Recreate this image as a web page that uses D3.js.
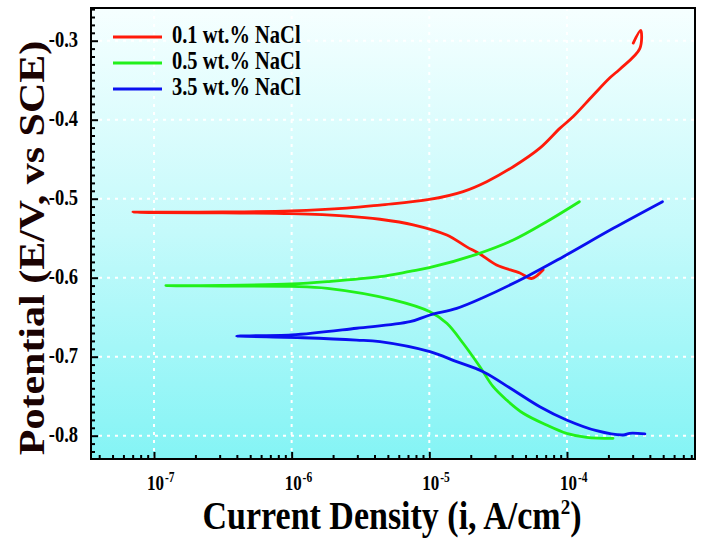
<!DOCTYPE html>
<html><head><meta charset="utf-8">
<script src="https://cdn.jsdelivr.net/npm/d3@7"></script>
<style>html,body{margin:0;padding:0;background:#fff;}svg{display:block;}</style>
</head><body>
<svg id="chart" width="705" height="538"></svg>
<script>
// ---- data ----
const seriesNames = ["0.1 wt.% NaCl", "0.5 wt.% NaCl", "3.5 wt.% NaCl"];
const seriesColors = ["#ff1a0a", "#22f01a", "#0a10f0"];

const redI = [6.71e-5,5.53e-5,4.55e-5,3.08e-5,2.33e-5,1.87e-5,1.34e-5,7.64e-6,4.38e-6,2.51e-6,1.0e-6,3.16e-7,1.0e-7,7.03e-8,
  1.0e-7,3.16e-7,1.0e-6,2.51e-6,4.38e-6,1.0e-5,1.76e-5,2.61e-5,4.07e-5,6.35e-5,8.87e-5,1.11e-4,1.55e-4,2.05e-4,2.42e-4,3.38e-4,3.43e-4,3.03e-4];
const redE = [-0.590,-0.601,-0.594,-0.584,-0.570,-0.561,-0.546,-0.533,-0.526,-0.522,-0.519,-0.518,-0.5175,-0.517,
  -0.517,-0.5168,-0.5155,-0.512,-0.508,-0.501,-0.491,-0.4785,-0.4595,-0.436,-0.411,-0.396,-0.369,-0.347,-0.336,-0.310,-0.287,-0.303];

const greenI = [2.16e-4,1.39e-4,9.93e-5,7.11e-5,4.81e-5,3.64e-5,2.91e-5,2.33e-5,1.76e-5,1.34e-5,1.01e-5,5.47e-6,1.82e-6,1.0e-6,3.16e-7,1.22e-7,
  3.16e-7,1.0e-6,1.82e-6,4.38e-6,7.23e-6,1.0e-5,2.2e-5,4.07e-5,7.11e-5,1.23e-4];
const greenE = [-0.8033,-0.802,-0.797,-0.7865,-0.7716,-0.7548,-0.738,-0.7127,-0.683,-0.6577,-0.643,-0.628,-0.6134,-0.611,-0.6105,-0.6101,
  -0.6098,-0.608,-0.605,-0.5987,-0.592,-0.5873,-0.5704,-0.5523,-0.5291,-0.5038];

const blueI = [3.68e-4,2.86e-4,2.56e-4,1.64e-4,9.93e-5,6.35e-5,4.07e-5,2.46e-5,1.58e-5,1.01e-5,4.38e-6,2.96e-6,1.21e-6,3.99e-7,
  1.0e-6,2.96e-6,7.23e-6,1.01e-5,1.58e-5,2.4e-5,5.08e-5,9.4e-5,2.17e-4,4.94e-4];
const blueE = [-0.7978,-0.797,-0.7991,-0.7937,-0.7801,-0.7633,-0.7422,-0.719,-0.7063,-0.6937,-0.681,-0.6789,-0.676,-0.6738,
  -0.6725,-0.664,-0.6557,-0.6472,-0.6388,-0.626,-0.5987,-0.5734,-0.5375,-0.5038];

const xTicks = [1e-7, 1e-6, 1e-5, 1e-4];
const xTickExps = ["-7", "-6", "-5", "-4"];
const yTicks = [-0.3, -0.4, -0.5, -0.6, -0.7, -0.8];
const yTickLabels = ["-0.3", "-0.4", "-0.5", "-0.6", "-0.7", "-0.8"];
const xTitle = "Current Density (i, A/cm";
const yTitle = "Potential (E/V, vs SCE)";

// ---- layout ----
const L = 91, R = 695, T = 8, B = 459;
const svg = d3.select("#chart");
const x = d3.scaleLog().domain([Math.pow(10, -7.4575), Math.pow(10, -3.07)]).range([L, R]);
const y = d3.scaleLinear().domain([-0.8295, -0.2586]).range([B, T]);
const serif = "'Liberation Serif','Times New Roman',serif";
const SY = 1.2; // vertical stretch of text

const defs = svg.append("defs");
const grad = defs.append("linearGradient").attr("id", "bg").attr("x1", 0).attr("y1", 0).attr("x2", 0).attr("y2", 1);
grad.append("stop").attr("offset", "0%").attr("stop-color", "#f6ffff");
grad.append("stop").attr("offset", "50%").attr("stop-color", "#c4fafb");
grad.append("stop").attr("offset", "100%").attr("stop-color", "#84f4f5");
defs.append("clipPath").attr("id", "clip").append("rect").attr("x", L).attr("y", T).attr("width", R - L).attr("height", B - T);

svg.append("rect").attr("x", L).attr("y", T).attr("width", R - L).attr("height", B - T).attr("fill", "url(#bg)");

// grid
const grid = svg.append("g").attr("stroke", "#ffffff").attr("stroke-width", 2).attr("stroke-dasharray", "3,5");
grid.selectAll(".gx").data(xTicks).join("line").attr("x1", d => x(d)).attr("x2", d => x(d)).attr("y1", T).attr("y2", B);
grid.selectAll(".gy").data(yTicks).join("line").attr("y1", d => y(d)).attr("y2", d => y(d)).attr("x1", L).attr("x2", R);

// axes with inward ticks
const minorX = [];
for (let e = -8; e <= -3; e++) for (let m = 1; m <= 9; m++) { const v = m * Math.pow(10, e); if (v >= x.domain()[0] && v <= x.domain()[1]) minorX.push(v); }
const xAxisMinor = d3.axisTop(x).tickValues(minorX.filter(v => !xTicks.some(t => Math.abs(t - v) / t < 1e-6))).tickSize(4).tickFormat("");
const xAxisMajor = d3.axisTop(x).tickValues(xTicks).tickSize(7).tickFormat("");
[xAxisMinor, xAxisMajor].forEach(ax => {
  const g = svg.append("g").attr("transform", `translate(0,${B})`).call(ax);
  g.select(".domain").remove();
  g.selectAll("line").attr("stroke", "#000").attr("stroke-width", 2);
});
const minorY = d3.range(-83, -25).map(v => v / 100).filter(v => v >= y.domain()[0] && v <= y.domain()[1] && !yTicks.some(t => Math.abs(t - v) < 1e-6));
const yAxisMinor = d3.axisRight(y).tickValues(minorY).tickSize(4).tickFormat("");
const yAxisMajor = d3.axisRight(y).tickValues(yTicks).tickSize(7).tickFormat("");
[yAxisMinor, yAxisMajor].forEach(ax => {
  const g = svg.append("g").attr("transform", `translate(${L},0)`).call(ax);
  g.select(".domain").remove();
  g.selectAll("line").attr("stroke", "#000").attr("stroke-width", 2);
});

// frame
svg.append("rect").attr("x", L).attr("y", T).attr("width", R - L).attr("height", B - T)
  .attr("fill", "none").attr("stroke", "#000").attr("stroke-width", 2);

// tick labels
svg.selectAll(".ylab").data(yTicks).join("text")
  .attr("transform", d => `translate(78,${y(d) + 6}) scale(1,${SY})`)
  .attr("text-anchor", "end").attr("font-family", serif).attr("font-weight", "bold").attr("font-size", 18.5)
  .text((d, i) => yTickLabels[i]);

const xl = svg.selectAll(".xlab").data(xTicks).join("text")
  .attr("transform", d => `translate(${x(d) - 7},${B + 31}) scale(1,${SY})`)
  .attr("text-anchor", "start").attr("font-family", serif).attr("font-weight", "bold").attr("font-size", 17);
xl.append("tspan").text("10");
xl.append("tspan").attr("dx", 1).attr("dy", -7).attr("font-size", 11.5).text((d, i) => xTickExps[i]);

// titles
const xt = svg.append("text").attr("transform", `translate(392,${529}) scale(1,1.15)`)
  .attr("text-anchor", "middle").attr("font-family", serif).attr("font-weight", "bold").attr("font-size", 34).attr("fill", "#000");
xt.append("tspan").text(xTitle);
xt.append("tspan").attr("dy", -13).attr("font-size", 19).text("2");
xt.append("tspan").attr("dy", 13).text(")");

svg.append("text").attr("transform", `translate(44,${248}) rotate(-90) scale(${SY},1)`)
  .attr("text-anchor", "middle").attr("font-family", serif).attr("font-weight", "bold").attr("font-size", 35).attr("fill", "#1a0202")
  .text(yTitle);

// curves
const line = d3.line().x(d => x(d[0])).y(d => y(d[1])).curve(d3.curveCatmullRom.alpha(0.5));
const allSeries = [d3.zip(redI, redE), d3.zip(greenI, greenE), d3.zip(blueI, blueE)];
const plot = svg.append("g").attr("clip-path", "url(#clip)");
plot.selectAll(".curve").data(allSeries).join("path")
  .attr("d", line).attr("fill", "none").attr("stroke", (d, i) => seriesColors[i])
  .attr("stroke-width", 2.8).attr("stroke-linejoin", "round").attr("stroke-linecap", "round");

// legend
const lg = svg.append("g");
const legY = [37, 63, 89];
seriesNames.forEach((n, i) => {
  lg.append("line").attr("x1", 113).attr("x2", 162).attr("y1", legY[i]).attr("y2", legY[i])
    .attr("stroke", seriesColors[i]).attr("stroke-width", 3);
  lg.append("text").attr("transform", `translate(172,${legY[i] + 6}) scale(1,${SY})`)
    .attr("font-family", serif).attr("font-weight", "bold").attr("font-size", 20.5).text(n);
});
</script>
</body></html>
